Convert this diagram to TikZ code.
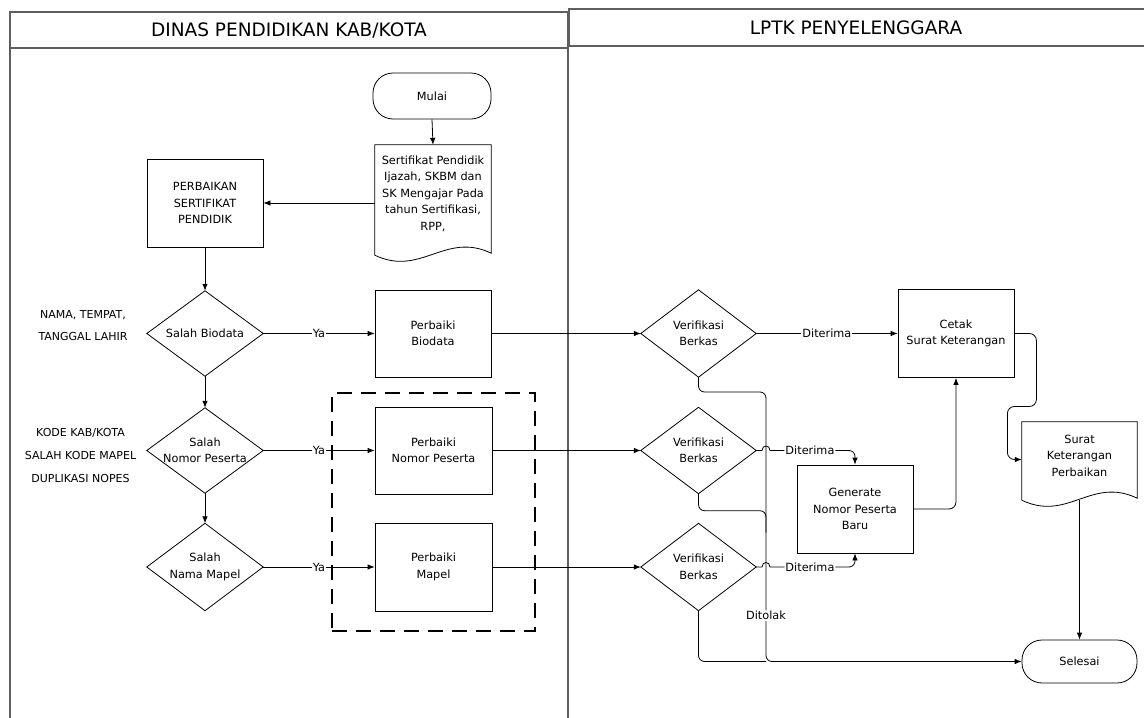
\documentclass[tikz,border=0pt]{standalone}
\usepackage{fontspec}
\setmainfont{DejaVu Sans}
\usetikzlibrary{arrows.meta,calc}
\newcommand\nodefont{\fontsize{11.3}{16.5}\selectfont}
\newcommand\drawdiamond[1]{\draw[shapeline] (#1.north) -- (#1.east) -- (#1.south) -- (#1.west) -- cycle;}
\newcommand\drawdoc[3]{\draw[shapeline] (#1.north west) -- (#1.north east) -- ([yshift=-#3pt]#1.south east) .. controls +(-46,-22) and +(46,22) .. ([yshift=-#2pt]#1.south west) -- cycle;}
\begin{document}
\begin{tikzpicture}[x=1pt,y=-1pt,
  shapeline/.style={line width=0.8pt, draw=black},
  box/.style={draw, line width=0.8pt, minimum width=116pt, minimum height=88pt, inner sep=1pt, align=center, font=\nodefont},
  dec/.style={minimum width=116pt, minimum height=86pt, inner sep=0pt, align=center, font=\nodefont},
  docn/.style={minimum width=116pt, inner sep=0pt, align=center, font=\nodefont},
  term/.style={draw, line width=0.8pt, rounded corners=20pt, minimum width=118pt, minimum height=46pt, inner sep=1pt, font=\nodefont},
  conn/.style={line width=0.8pt, -{Latex[length=7pt,width=5.5pt]}},
  plain/.style={line width=0.8pt},
  lbl/.style={fill=white, inner sep=1pt, font=\nodefont},
  lane/.style={line width=1.3pt, draw={rgb,255:red,95;green,95;blue,95}},
  hdr/.style={font=\fontsize{18.5}{22}\selectfont},
  dashbox/.style={draw, line width=2.4pt, dash pattern=on 15pt off 9pt, minimum width=203pt, minimum height=238pt},
  side/.style={align=center, inner sep=0pt}
]
\useasboundingbox (0,0) rectangle (1144,718);
% lanes
\draw[lane] (10,12) rectangle (568,48);
\draw[lane] (10,48) -- (10,730);
\draw[lane] (568,48) -- (568,730);
\draw[lane] (569,9) rectangle (1160,46);
\node[hdr] (h1) at (289,30) {DINAS PENDIDIKAN KAB/KOTA};
\node[hdr] (h2) at (856,27.5) {LPTK PENYELENGGARA};
% side labels
\node[side, font=\fontsize{11}{22}\selectfont] (lb1) at (83,326) {NAMA, TEMPAT,\\TANGGAL LAHIR};
\node[side, font=\fontsize{11}{23}\selectfont] (lb2) at (80.5,455) {KODE KAB/KOTA\\SALAH KODE MAPEL\\DUPLIKASI NOPES};
% dashed group
\node[dashbox] (grp) at (433.5,512) {};
% nodes
\node[term] (mulai) at (432,96) {Mulai};
\node[docn, minimum height=97pt] (d1) at (433,193.5) {Sertifikat Pendidik\\Ijazah, SKBM dan\\SK Mengajar Pada\\tahun Sertifikasi,\\RPP,};
\drawdoc{d1}{13}{11}
\node[box] (pk) at (205,203) {PERBAIKAN\\SERTIFIKAT\\PENDIDIK};
\node[dec, minimum height=85pt] (sb) at (205,333.5) {Salah Biodata};
\node[dec, minimum height=85pt] (sn) at (205,450.5) {Salah\\Nomor Peserta};
\node[dec, minimum height=87pt] (sm) at (205,567) {Salah\\Nama Mapel};
\drawdiamond{sb}\drawdiamond{sn}\drawdiamond{sm}
\node[box, minimum height=87pt] (pb) at (433,333.5) {Perbaiki\\Biodata};
\node[box, minimum width=117pt, minimum height=87pt] (pn) at (433.5,450.5) {Perbaiki\\Nomor Peserta};
\node[box, minimum width=117pt] (pm) at (433.5,567) {Perbaiki\\Mapel};
\node[dec, minimum width=115pt, minimum height=87pt] (v1) at (698.5,333.5) {Verifikasi\\Berkas};
\node[dec, minimum width=115pt, minimum height=86pt] (v2) at (698.5,450.5) {Verifikasi\\Berkas};
\node[dec, minimum width=115pt, minimum height=87pt] (v3) at (698.5,567) {Verifikasi\\Berkas};
\drawdiamond{v1}\drawdiamond{v2}\drawdiamond{v3}
\node[box] (cetak) at (956,333.5) {Cetak\\Surat Keterangan};
\node[box] (gen) at (855,509) {Generate\\Nomor Peserta\\Baru};
\node[docn, minimum width=115pt, minimum height=67pt] (d2) at (1079.5,455.5) {Surat\\Keterangan\\Perbaikan};
\drawdoc{d2}{11}{9}
\node[term, minimum width=115pt, minimum height=43pt] (sel) at (1079.5,661.5) {Selesai};
% helper coordinates
\coordinate (tx) at (766,392);
\coordinate (d2w) at ([yshift=-4pt]d2.west);
% connectors
\draw[conn] (mulai.south) -- (d1.north);
\draw[conn] (d1.west |- pk.east) -- (pk.east);
\draw[conn] (pk.south) -- (sb.north);
\draw[conn] (sb.south) -- (sn.north);
\draw[conn] (sn.south) -- (sm.north);
\draw[conn] (sb.east) -- node[lbl]{Ya} (pb.west);
\draw[conn] (sn.east) -- node[lbl]{Ya} (pn.west);
\draw[conn] (sm.east) -- node[lbl]{Ya} (pm.west);
\draw[conn] (pb.east) -- (v1.west);
\draw[conn] (pn.east) -- (v2.west);
\draw[conn] (pm.east) -- (v3.west);
\draw[conn] (v1.east) -- node[lbl]{Diterima} (cetak.west);
% rejected route
\draw[conn, rounded corners=6pt] (v1.south) -- (v1.south |- tx) -- (tx) -- node[lbl, pos=0.83]{Ditolak} (tx |- sel.west) -- (sel.west);
\draw[plain, rounded corners=6pt] (v2.south) -- ++(0,17) -- ($(tx |- v2.south)+(0,17)$) -- ++(0,22);
\draw[plain, rounded corners=6pt] (v3.south) -- (v3.south |- sel.west) -- (tx |- sel.west);
% accepted routes with hops
\draw[conn] (v2.east) -- ($(tx |- v2.east)+(-4,0)$) .. controls +(0,-6) and +(0,-6) .. ($(tx |- v2.east)+(4,0)$) [rounded corners=6pt] -- node[lbl, pos=0.47]{Diterima} (gen.north |- v2.east) -- (gen.north);
\draw[conn] (v3.east) -- ($(tx |- v3.east)+(-4,0)$) .. controls +(0,-6) and +(0,-6) .. ($(tx |- v3.east)+(4,0)$) [rounded corners=6pt] -- node[lbl, pos=0.47]{Diterima} (gen.south |- v3.east) -- (gen.south);
\draw[conn, rounded corners=7pt] (gen.east) -- (gen.east -| cetak.south) -- (cetak.south);
\draw[conn, rounded corners=7pt] (cetak.east) -- ++(22,0) -- ++(0,73) -- ++(-29,0) coordinate (c3) -- (c3 |- d2w) -- (d2w);
\draw[conn] ([yshift=-11pt]d2.south) -- (sel.north);
\end{tikzpicture}
\end{document}
